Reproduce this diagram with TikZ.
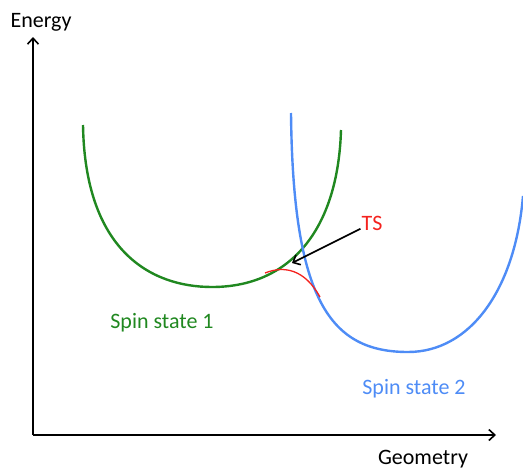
\documentclass[tikz,border=0pt]{standalone}
\usepackage{fontspec}
\setmainfont{Carlito}
\usepackage{tikz}
\usetikzlibrary{arrows.meta}
\definecolor{spinGreen}{RGB}{32,136,32}
\definecolor{spinBlue}{RGB}{78,140,246}
\definecolor{tsRed}{RGB}{244,34,30}
\tikzset{
  axis/.style={black, line width=1.6pt, -{Straight Barb[length=6pt,width=11pt]}},
  label/.style={font=\fontsize{22}{26}\selectfont, inner sep=1pt}
}

\begin{document}
\begin{tikzpicture}[x=1pt, y=-1pt]
    \useasboundingbox (0,0) rectangle (523,469);

    % axes
    \coordinate (O) at (33,435);
    \coordinate (ymax) at (33,37);
    \coordinate (xmax) at (496,435);
    \draw[axis] (O) -- (ymax);
    \draw[axis] (O) -- (xmax);
    \node[label] (energy) at (41,22) {Energy};
    \node[label] (geometry) at (423,459) {Geometry};

    % spin state 1
    \draw[spinGreen, line width=2.4pt]
        (83,125) .. controls (85,250) and (150,287) .. (212,287)
                 .. controls (290,287) and (338,230) .. (341,130);

    % spin state 2
    \draw[spinBlue, line width=2.4pt]
        (291,113) .. controls (293,300) and (330,352) .. (408,352)
                  .. controls (470,352) and (515,290) .. (523,196);

    % crossing region
    \draw[tsRed, line width=1.3pt]
        (265,273) .. controls (285,265) and (305,270) .. (320,297);

    % labels
    \node[label, text=tsRed] (ts) at (372,223) {TS};
    \coordinate (tspt) at (292,263);
    \draw[black, line width=1.6pt, -{Straight Barb[length=6pt,width=11pt]}] (ts) -- (tspt);
    \node[label, text=spinGreen] (spin1) at (162,323) {Spin state 1};
    \node[label, text=spinBlue] (spin2) at (414,389) {Spin state 2};
\end{tikzpicture}
\end{document}
